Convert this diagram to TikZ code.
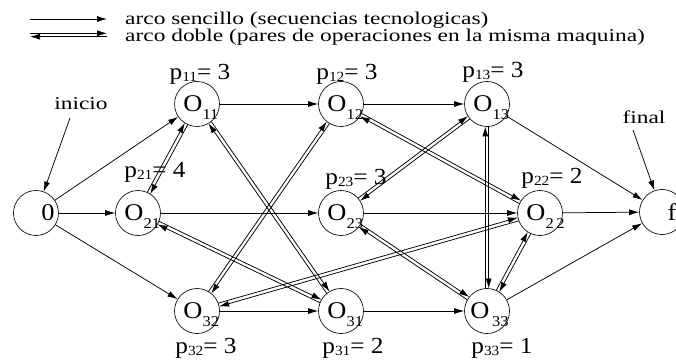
\documentclass[tikz,border=0pt]{standalone}
\usepackage{fontspec}
\setmainfont{Liberation Serif}[FakeStretch=1.1]
\newfontfamily\legfont{Liberation Serif}[FakeStretch=1.3]
\usetikzlibrary{arrows.meta,calc}
\newcommand\osub[1]{\rlap{\smash{\raisebox{-8pt}{\fontsize{15}{15}\selectfont #1}}}}
\newcommand\psub[1]{\raisebox{-2pt}{\fontsize{14}{14}\selectfont #1}}
\newcommand\dblr[3]{%
  \draw[arr] ($(#1)!#3!(#2)!1.7pt!90:(#2)$) -- ($(#2)!#3!(#1)!1.7pt!-90:(#1)$);
  \draw[arr] ($(#2)!#3!(#1)!1.7pt!90:(#1)$) -- ($(#1)!#3!(#2)!1.7pt!-90:(#2)$);}
\newcommand\dbl[2]{\dblr{#1}{#2}{22.5pt}}
\begin{document}
\begin{tikzpicture}[x=1pt,y=-1pt,
  opn/.style={circle,draw,line width=0.65pt,minimum size=45pt,inner sep=0pt},
  otxt/.style={font=\fontsize{24}{24}\selectfont,inner sep=0pt},
  ptxt/.style={font=\fontsize{23}{23}\selectfont,inner sep=0pt},
  leg/.style={font=\legfont\fontsize{18}{18}\selectfont,inner sep=0pt,anchor=west},
  lbl/.style={font=\legfont\fontsize{18}{18}\selectfont,inner sep=0pt},
  arr/.style={-{Latex[length=10pt,width=6pt]},line width=0.75pt},
]
\useasboundingbox (0,0) rectangle (676,363);
% legend
\coordinate (l1a) at (30,19);
\coordinate (l1b) at (107,19);
\draw[arr] (l1a) -- (l1b);
\coordinate (l2a) at (30,35);
\coordinate (l2b) at (107,35);
\dblr{l2a}{l2b}{0pt}
\node[leg] (leg1) at (125,20) {arco sencillo (secuencias tecnologicas)};
\node[leg] (leg2) at (125,37) {arco doble (pares de operaciones en la misma maquina)};
% nodes
\node[opn] (n0) at (36,213) {};
\node[opn] (o21) at (138,213) {};
\node[opn] (o11) at (197,104) {};
\node[opn] (o12) at (341,104) {};
\node[opn] (o13) at (487,104) {};
\node[opn] (o23) at (341,213) {};
\node[opn] (o22) at (540,213) {};
\node[opn] (nf) at (662,212) {};
\node[opn] (o32) at (197,311) {};
\node[opn] (o31) at (341,311) {};
\node[opn] (o33) at (487,311) {};
% node texts
\node[otxt] (t0) at (48,213) {0};
\node[otxt] (tf) at (672,212) {f};
\node[otxt] (t21) at ($(o21)+(-4,0)$) {O\osub{21}};
\node[otxt] (t11) at ($(o11)+(-4,0)$) {O\osub{11}};
\node[otxt] (t12) at ($(o12)+(-4,0)$) {O\osub{12}};
\node[otxt] (t13) at ($(o13)+(-4,0)$) {O\osub{13}};
\node[otxt] (t23) at ($(o23)+(-4,0)$) {O\osub{23}};
\node[otxt] (t22) at ($(o22)+(-4,0)$) {O\osub{2\,2}};
\node[otxt] (t32) at ($(o32)+(-4,0)$) {O\osub{32}};
\node[otxt] (t31) at ($(o31)+(-4,0)$) {O\osub{31}};
\node[otxt] (t33) at ($(o33)+(-7,0)$) {O\osub{\,33}};
% p labels
\node[ptxt] (p11) at (200,74) {p\psub{11}= 3};
\node[ptxt] (p21) at (155,172) {p\psub{21}= 4};
\node[ptxt] (p12) at (347,74) {p\psub{12}= 3};
\node[ptxt] (p13) at (493,72) {p\psub{13}= 3};
\node[ptxt] (p23) at (356,179) {p\psub{23}= 3};
\node[ptxt] (p22) at (552,178) {p\psub{22}= 2};
\node[ptxt] (p32) at (206,348) {p\psub{32}= 3};
\node[ptxt] (p31) at (353,348) {p\psub{31}= 2};
\node[ptxt] (p33) at (502,348) {p\psub{33}= 1};
% inicio / final
\node[lbl] (ini) at (81,104) {inicio};
\coordinate (inis) at (70,118);
\draw[arr] (inis) -- (n0);
\node[lbl] (fin) at (644,117) {final};
\coordinate (fins) at (633,130);
\draw[arr] (fins) -- (nf);
% single arcs
\draw[arr] (n0) -- (o11);
\draw[arr] (n0) -- (o21);
\draw[arr] (n0) -- (o32);
\draw[arr] (o11) -- (o12);
\draw[arr] (o12) -- (o13);
\draw[arr] (o21) -- (o23);
\draw[arr] (o23) -- (o22);
\draw[arr] (o22) -- (nf);
\draw[arr] (o13) -- (nf);
\draw[arr] (o32) -- (o31);
\draw[arr] (o31) -- (o33);
\draw[arr] (o33) -- (nf);
% double arcs
\dbl{o21}{o11}
\dbl{o11}{o31}
\dbl{o32}{o12}
\dbl{o12}{o22}
\dbl{o23}{o13}
\dbl{o13}{o33}
\dbl{o21}{o31}
\dbl{o32}{o22}
\dbl{o23}{o33}
\dbl{o33}{o22}
\end{tikzpicture}
\end{document}
